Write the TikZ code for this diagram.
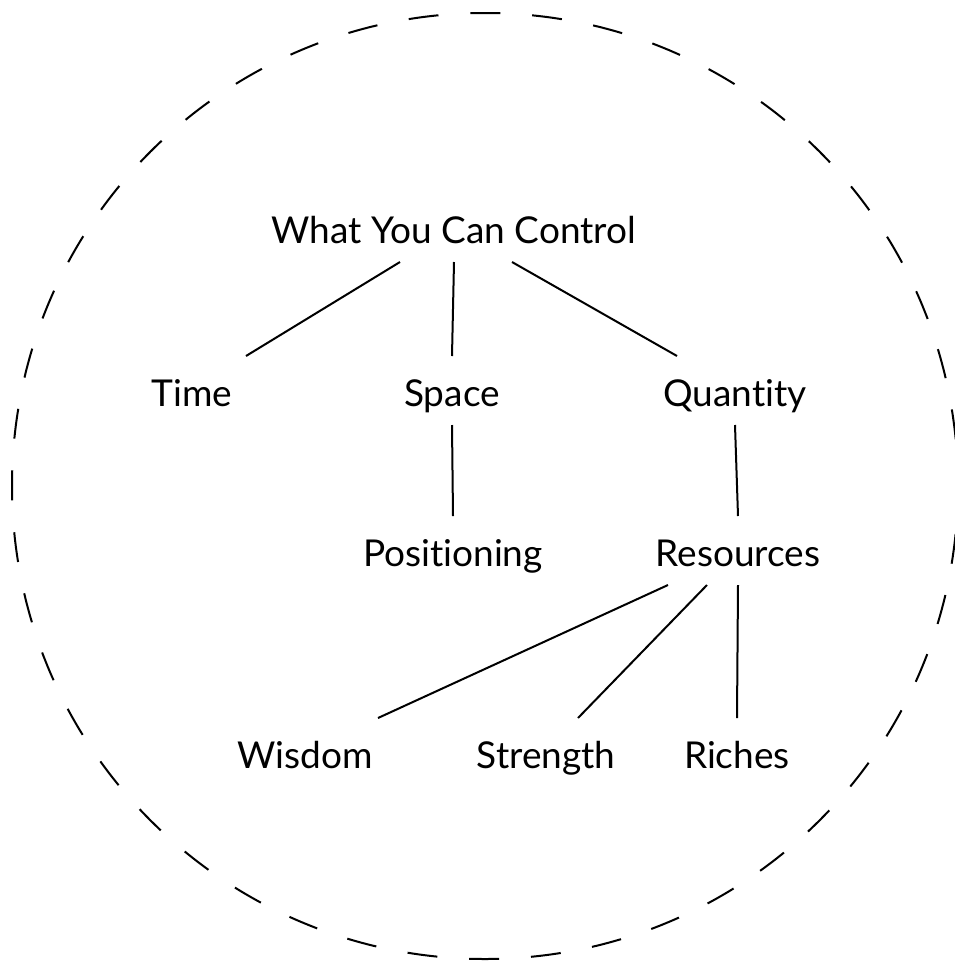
\documentclass[tikz,border=0pt]{standalone}
\usepackage{fontspec}
\setmainfont[Ligatures={NoCommon}]{Lato}
\begin{document}
\begin{tikzpicture}[x=1pt,y=-1pt,
  lbl/.style={anchor=base, inner xsep=0pt, inner ysep=0pt, outer sep=0pt,
    text height=50pt, text depth=19pt, font=\fontsize{37}{40}\selectfont},
  link/.style={line width=2pt, black}]
\useasboundingbox (0,0) rectangle (955,962);
\draw[line width=2pt, dash pattern=on 30pt off 31.9pt, dash phase=15pt] (485,486) circle (473pt);
\node[lbl] (top) at (454,243) {What You Can Control};
\node[lbl] (time) at (192,406) {Time};
\node[lbl] (space) at (452,406) {Space};
\node[lbl] (qty) at (735,406) {Quantity};
\node[lbl] (pos) at (453,566) {Positioning};
\node[lbl] (res) at (738,566) {Resources};
\node[lbl] (wis) at (305,768) {Wisdom};
\node[lbl] (str) at (546,768) {Strength};
\node[lbl] (rich) at (737,768) {Riches};
\draw[link] ([xshift=-54pt]top.south) -- ([xshift=54pt]time.north);
\draw[link] (top.south) -- (space.north);
\draw[link] ([xshift=58pt]top.south) -- ([xshift=-58pt]qty.north);
\draw[link] (space.south) -- (pos.north);
\draw[link] (qty.south) -- (res.north);
\draw[link] ([xshift=-70pt]res.south) -- ([xshift=73pt]wis.north);
\draw[link] ([xshift=-31pt]res.south) -- ([xshift=32pt]str.north);
\draw[link] (res.south) -- (rich.north);
\end{tikzpicture}
\end{document}
